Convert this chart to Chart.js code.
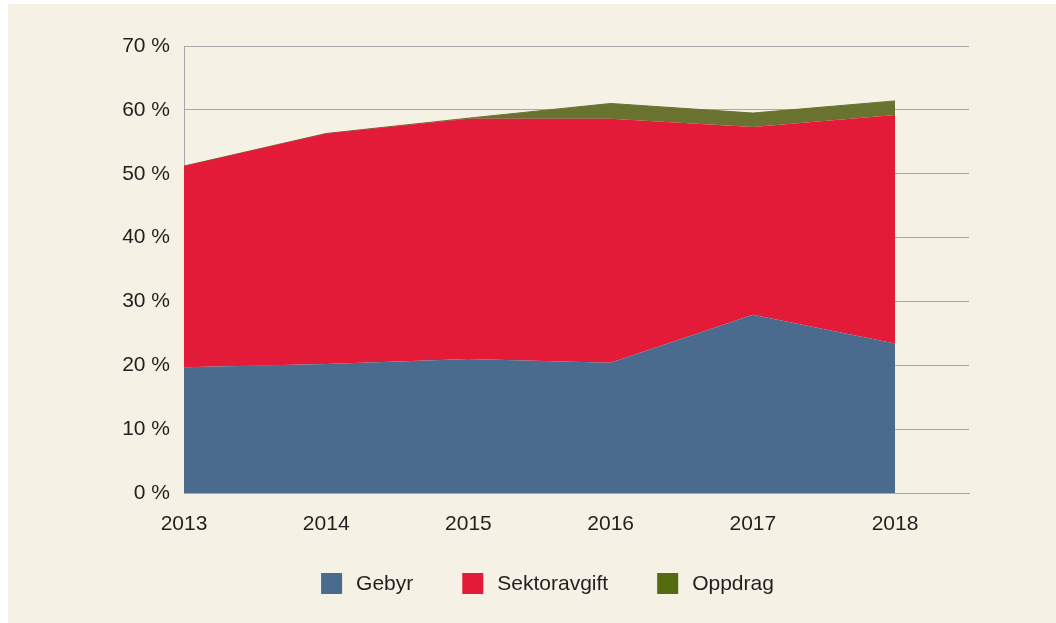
<!DOCTYPE html>
<html>
<head>
<meta charset="utf-8">
<script src="https://cdn.jsdelivr.net/npm/chart.js@4"></script>
<style>
  body { margin: 0; background: #ffffff; }
  #wrap {
    position: absolute;
    left: 8px; top: 4px;
    width: 1048px; height: 619px;
    background: #f5f1e5;
  }
</style>
</head>
<body>
<div id="wrap"><canvas id="chart" width="1048" height="619"></canvas></div>
<script>
// ── data ─────────────────────────────────────────────
const years = [2013, 2014, 2015, 2016, 2017, 2018];
const gebyr = [19.7, 20.2, 21.0, 20.4, 27.9, 23.4];
const sektoravgift = [31.5, 36.1, 37.6, 38.2, 29.4, 35.8];
const oppdrag = [0, 0, 0.1, 2.4, 2.2, 2.2];
const seriesNames = ['Gebyr', 'Sektoravgift', 'Oppdrag'];
const yTicks = [0, 10, 20, 30, 40, 50, 60, 70];

// colours
const areaColors = ['#4a6b8d', '#e31a38', '#69722f'];
const legendColors = ['#4a6b8d', '#e31a38', '#566a0f'];
const textColor = '#231f20';
const gridColor = '#a8a8a8';
const font = { family: "'Liberation Sans', Arial, sans-serif", size: 21 };

// ── legend drawn under the chart (centred a bit left of the plot) ──
const bottomLegend = {
  id: 'bottomLegend',
  afterDraw(chart) {
    const c = chart.ctx;
    const box = 21, gap = 14, spacing = 49;
    const centerX = 539.5, centerY = 579.5;
    c.save();
    c.font = font.size + 'px ' + font.family;
    c.textBaseline = 'middle';
    c.textAlign = 'left';
    const widths = seriesNames.map(n => c.measureText(n).width);
    let total = spacing * (seriesNames.length - 1);
    widths.forEach(w => { total += box + gap + w; });
    let x = centerX - total / 2;
    seriesNames.forEach((name, i) => {
      c.fillStyle = legendColors[i];
      c.fillRect(x, centerY - box / 2, box, box);
      c.fillStyle = textColor;
      c.fillText(name, x + box + gap, centerY + 1);
      x += box + gap + widths[i] + spacing;
    });
    c.restore();
  }
};

const ctx = document.getElementById('chart').getContext('2d');

new Chart(ctx, {
  type: 'line',
  data: {
    labels: years,
    datasets: [
      {
        label: seriesNames[0],
        data: gebyr,
        backgroundColor: areaColors[0],
        borderWidth: 0,
        fill: 'origin'
      },
      {
        label: seriesNames[1],
        data: sektoravgift,
        backgroundColor: areaColors[1],
        borderWidth: 0,
        fill: '-1'
      },
      {
        label: seriesNames[2],
        data: oppdrag,
        backgroundColor: areaColors[2],
        borderColor: areaColors[2],
        borderWidth: 1,
        fill: '-1'
      }
    ]
  },
  plugins: [bottomLegend],
  options: {
    responsive: false,
    animation: false,
    elements: { point: { radius: 0 }, line: { tension: 0 } },
    layout: { padding: { left: 0, right: 87, top: 42, bottom: 80 } },
    plugins: {
      tooltip: { enabled: false },
      legend: { display: false }
    },
    scales: {
      x: {
        type: 'linear',
        min: years[0],
        max: years[years.length - 1] + 0.52,
        grid: { display: false, drawTicks: false },
        border: { display: true, color: gridColor, width: 1 },
        afterBuildTicks: function(scale) {
          scale.ticks = years.map(v => ({ value: v }));
        },
        ticks: {
          padding: 19,
          font: font,
          color: textColor,
          maxRotation: 0,
          autoSkip: false,
          callback: function(v) { return String(v); }
        },
        afterFit: function(scale) { scale.height = 50; }
      },
      y: {
        stacked: true,
        min: yTicks[0],
        max: yTicks[yTicks.length - 1],
        grid: { color: gridColor, drawTicks: false, lineWidth: 1 },
        border: { display: true, color: gridColor, width: 1 },
        ticks: {
          stepSize: 10,
          padding: 14,
          font: font,
          color: textColor,
          callback: function(v) { return v + ' %'; }
        },
        afterFit: function(scale) { scale.width = 176; }
      }
    }
  }
});
</script>
</body>
</html>
